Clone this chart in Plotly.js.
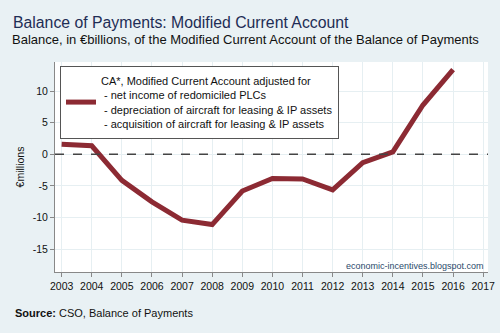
<!DOCTYPE html>
<html>
<head>
<meta charset="utf-8">
<script src="https://cdn.plot.ly/plotly-3.0.1.min.js"></script>
<style>html,body{margin:0;padding:0;background:#e9f1f4;}#chart{width:500px;height:333px;}</style>
</head>
<body>
<div id="chart"></div>
<script>
const years = [2003,2004,2005,2006,2007,2008,2009,2010,2011,2012,2013,2014,2015,2016];
const caStar = [1.6,1.35,-4.1,-7.5,-10.4,-11.1,-5.8,-3.8,-3.9,-5.6,-1.3,0.4,7.8,13.4];
const xTicks = [2003,2004,2005,2006,2007,2008,2009,2010,2011,2012,2013,2014,2015,2016,2017];
const yTicks = [-15,-10,-5,0,5,10];
const seriesName = "CA*, Modified Current Account adjusted for<br>\u00a0- net income of redomiciled PLCs<br>\u00a0- depreciation of aircraft for leasing & IP assets<br>\u00a0- acquisition of aircraft for leasing & IP assets";

const FONT = "Liberation Sans, Arial, sans-serif";
const trace = {
  x: years, y: caStar, type: 'scatter', mode: 'lines', name: seriesName,
  line: {color: '#8c2a33', width: 5}
};
const layout = {
  width: 500, height: 333,
  margin: {l: 55, r: 12, t: 62, b: 61},
  paper_bgcolor: '#e9f1f4', plot_bgcolor: '#ffffff',
  font: {family: FONT, size: 11, color: '#111'},
  title: {text: 'Balance of Payments: Modified Current Account', x: 0.026, xanchor: 'left', y: 0.934, yanchor: 'middle',
          font: {family: FONT, size: 15.8, color: '#1e2d55'}},
  showlegend: true,
  legend: {x: 0.0115, y: 0.981, xanchor: 'left', yanchor: 'top', bgcolor: '#ffffff', bordercolor: '#555', borderwidth: 1,
           font: {family: FONT, size: 11, color: '#111'}, tracegroupgap: 0, itemwidth: 30},
  xaxis: {range: [2002.78, 2017.16], tickvals: xTicks, ticktext: xTicks.map(String), showgrid: true, gridcolor: '#e6eff2', gridwidth: 1,
          zeroline: false, showline: true, linecolor: '#888', linewidth: 1, ticks: 'outside', ticklen: 4, tickcolor: '#888',
          tickfont: {family: FONT, size: 10.5, color: '#111'}},
  yaxis: {range: [-18.6, 14.6], tickvals: yTicks, ticktext: yTicks.map(String), showgrid: true, gridcolor: '#e6eff2', gridwidth: 1,
          zeroline: false, showline: true, linecolor: '#888', linewidth: 1, ticks: 'outside', ticklen: 4, tickcolor: '#888',
          tickfont: {family: FONT, size: 10.5, color: '#111'},
          title: {text: '€millions', font: {family: FONT, size: 10.5, color: '#111'}, standoff: 6}},
  shapes: [{type: 'line', xref: 'paper', x0: 0, x1: 1, yref: 'y', y0: 0, y1: 0, line: {color: '#444', width: 1.5, dash: 'dash'}}],
  annotations: [
    {text: 'Balance, in €billions, of the Modified Current Account of the Balance of Payments', xref: 'paper', yref: 'paper',
     x: -0.104, y: 1.105, xanchor: 'left', yanchor: 'middle', showarrow: false, font: {family: FONT, size: 13, color: '#111'}},
    {text: '<b>Source:</b> CSO, Balance of Payments', xref: 'paper', yref: 'paper',
     x: -0.097, y: -0.195, xanchor: 'left', yanchor: 'middle', showarrow: false, font: {family: FONT, size: 11, color: '#111'}},
    {text: 'economic-incentives.blogspot.com', xref: 'paper', yref: 'paper',
     x: 0.995, y: 0.029, xanchor: 'right', yanchor: 'middle', showarrow: false, font: {family: FONT, size: 9, color: '#2b4a6b'}}
  ]
};
Plotly.newPlot('chart', [trace], layout, {displayModeBar: false, staticPlot: true});
</script>
</body>
</html>
